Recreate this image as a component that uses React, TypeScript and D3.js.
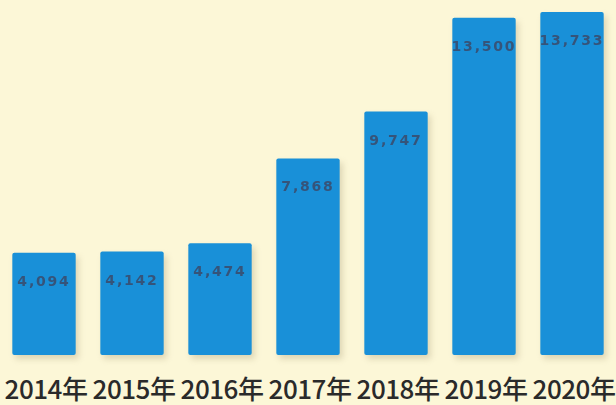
import React from "react";
import * as d3 from "d3";

const years = ["2014年", "2015年", "2016年", "2017年", "2018年", "2019年", "2020年"];
const values = [4094, 4142, 4474, 7868, 9747, 13500, 13733];

const W = 616;
const H = 405;

export default function App() {
  const x = d3.scaleBand<string>().domain(years).range([0, W]).paddingInner(0.28).paddingOuter(0.14);
  const y = d3.scaleLinear().domain([0, 13733]).range([355, 12]);
  const fmt = d3.format(",");
  return (
    <div style={{ position: "fixed", left: 0, top: 0, width: W, height: H }}>
      <svg width={W} height={H} viewBox={`0 0 ${W} ${H}`}>
        <defs>
          <filter id="sh" x="-20%" y="-20%" width="140%" height="140%">
            <feGaussianBlur stdDeviation="3" />
          </filter>
        </defs>
        <rect x={0} y={0} width={W} height={H} fill="#fcf7d7" />
        {years.map((yr, i) => (
          <rect
            key={"s" + yr}
            x={(x(yr) as number) + 3}
            y={y(values[i]) + 4}
            width={x.bandwidth()}
            height={355 - y(values[i])}
            fill="#b8ad8a"
            opacity={0.45}
            filter="url(#sh)"
          />
        ))}
        {years.map((yr, i) => (
          <rect
            key={yr}
            x={x(yr)}
            y={y(values[i])}
            width={x.bandwidth()}
            height={355 - y(values[i])}
            rx={2}
            fill="#1990d8"
          />
        ))}
        {years.map((yr, i) => (
          <text
            key={"v" + yr}
            x={(x(yr) as number) + x.bandwidth() / 2}
            y={y(values[i]) + 33}
            textAnchor="middle"
            fontFamily="DejaVu Sans, sans-serif"
            fontSize={14}
            fontWeight="bold"
            letterSpacing={1.8}
            fill="#3b4a6a"
            opacity={0.85}
          >
            {fmt(values[i])}
          </text>
        ))}
        {years.map((yr) => (
          <text
            key={"l" + yr}
            x={(x(yr) as number) + x.bandwidth() / 2 + 2}
            y={399}
            textAnchor="middle"
            fontFamily="'Noto Sans CJK SC', 'Noto Sans', sans-serif"
            fontSize={26}
            fontWeight={500}
            letterSpacing={-0.5}
            fill="#2a2a2a"
          >
            {yr}
          </text>
        ))}
      </svg>
    </div>
  );
}
